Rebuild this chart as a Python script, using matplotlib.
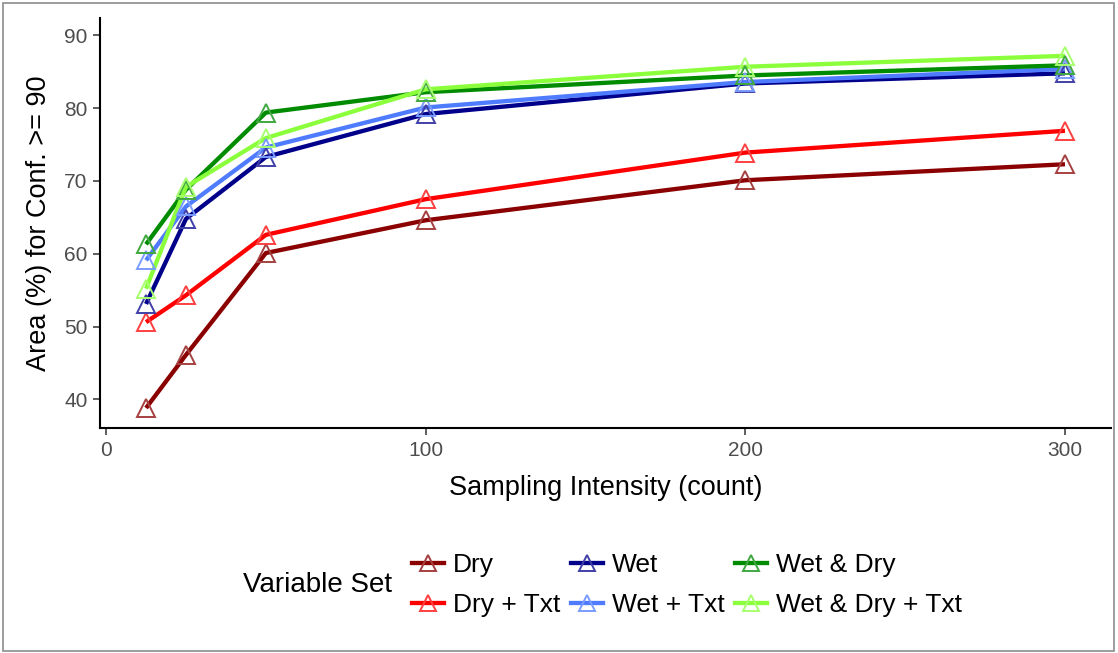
import matplotlib
matplotlib.use("Agg")
import matplotlib.pyplot as plt
from matplotlib.lines import Line2D
from matplotlib.patches import Rectangle

plt.rcParams['font.family'] = ['Liberation Sans', 'DejaVu Sans']

x_vals = [12.5, 25, 50, 100, 200, 300]
series_names = ["Dry", "Dry + Txt", "Wet", "Wet + Txt", "Wet & Dry", "Wet & Dry + Txt"]
dry = [38.8, 46.1, 60.1, 64.6, 70.1, 72.3]
dry_txt = [50.6, 54.3, 62.6, 67.5, 73.9, 76.9]
wet = [53.1, 64.8, 73.3, 79.2, 83.4, 84.8]
wet_txt = [59.1, 66.5, 74.6, 80.1, 83.6, 85.4]
wet_dry = [61.3, 68.8, 79.4, 82.2, 84.5, 85.9]
wet_dry_txt = [55.2, 69.2, 75.9, 82.6, 85.7, 87.2]
values = [dry, dry_txt, wet, wet_txt, wet_dry, wet_dry_txt]
colors = ["#8B0000", "#FF0000", "#00008B", "#4F7CFF", "#008B00", "#8CFF3C"]
marker_colors = ["#A64040", "#FF4040", "#4040A8", "#7A9CFF", "#40A840", "#A8FF70"]

fig = plt.figure(figsize=(11.18, 6.53), dpi=100)
ax = fig.add_axes([100/1118, 1-428/653, 1011/1118, 410/653])

LW = 3.1
for name, vals, c, mc in zip(series_names, values, colors, marker_colors):
    ax.plot(x_vals, vals, color=c, lw=LW, solid_capstyle='butt', zorder=2)
    ax.plot(x_vals, vals, ls='none', marker='^', markersize=13, markerfacecolor='none',
            markeredgecolor=mc, markeredgewidth=1.4, zorder=3)

ax.set_xlim(-1.9, 314.4)
ax.set_ylim(36.05, 92.4)
ax.set_xticks([0, 100, 200, 300])
ax.set_yticks([40, 50, 60, 70, 80, 90])
for s in ['top', 'right']:
    ax.spines[s].set_visible(False)
for s in ['left', 'bottom']:
    ax.spines[s].set_linewidth(1.5)
    ax.spines[s].set_color('black')
ax.tick_params(axis='both', length=5, width=1.1, color='#333333', labelsize=15,
               labelcolor='#4D4D4D', pad=4)
ax.set_xlabel("Sampling Intensity (count)", fontsize=19.5, labelpad=11)
ax.set_ylabel("Area (%) for Conf. >= 90", fontsize=19.5, labelpad=9)

handles = [Line2D([0], [0], color=c, lw=LW, marker='^', markersize=12,
                  markerfacecolor='none', markeredgecolor=mc, markeredgewidth=1.4)
           for c, mc in zip(colors, marker_colors)]
leg = fig.legend(handles, series_names, ncol=3, loc='center left',
                 bbox_to_anchor=(412/1118, 1-585/653), frameon=False, fontsize=19,
                 handlelength=1.2, handletextpad=0.35, columnspacing=0.4, labelspacing=0.6,
                 borderpad=0, borderaxespad=0)
fig.text(243/1118, 1-585/653, "Variable Set", fontsize=20, va='center', ha='left')

fig.patches.append(Rectangle((3/1118, 2/653), 1111/1118, 648/653, transform=fig.transFigure,
                             fill=False, edgecolor='#8c8c8c', lw=1.2))

fig.savefig("out.png", dpi=100)
